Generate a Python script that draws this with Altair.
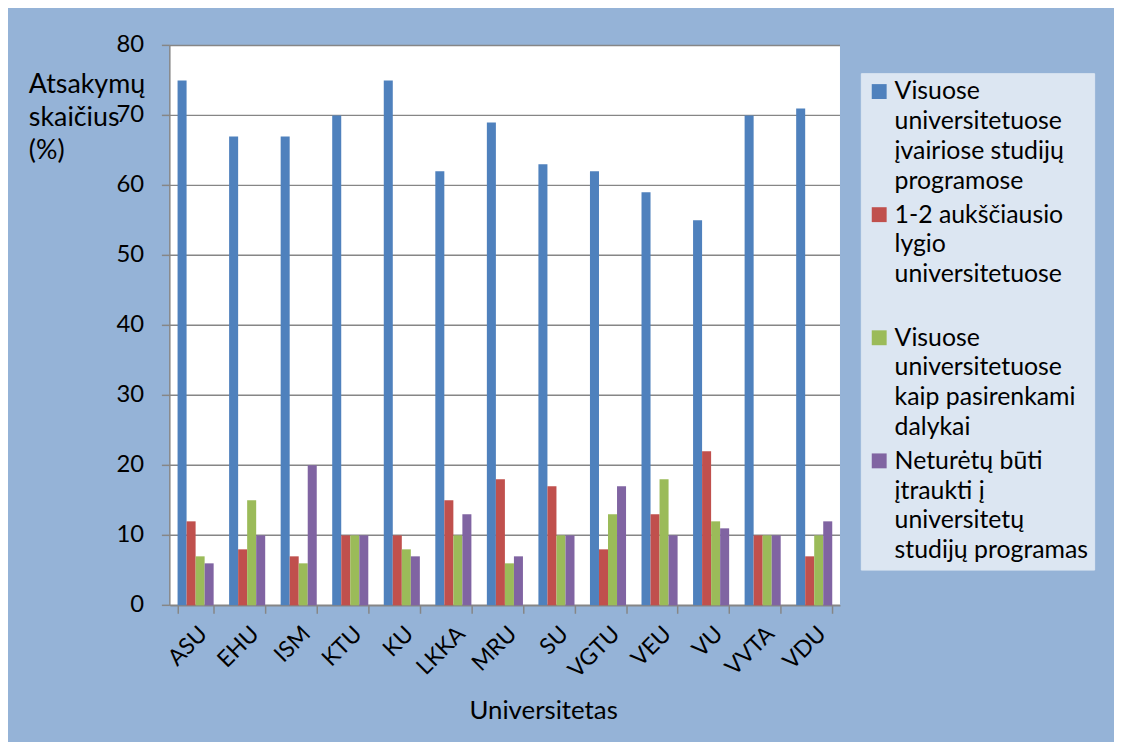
import altair as alt
import pandas as pd

universities = ["ASU", "EHU", "ISM", "KTU", "KU", "LKKA", "MRU", "SU", "VGTU", "VEU", "VU", "VVTA", "VDU"]
series = [
    "Visuose|universitetuose|įvairiose studijų|programose",
    "1-2 aukščiausio|lygio|universitetuose| ",
    "Visuose|universitetuose|kaip pasirenkami|dalykai",
    "Neturėtų būti|įtraukti į|universitetų|studijų programas",
]
s1 = [75, 67, 67, 70, 75, 62, 69, 63, 62, 59, 55, 70, 71]
s2 = [12, 8, 7, 10, 10, 15, 18, 17, 8, 13, 22, 10, 7]
s3 = [7, 15, 6, 10, 8, 10, 6, 10, 13, 18, 12, 10, 10]
s4 = [6, 10, 20, 10, 7, 13, 7, 10, 17, 10, 11, 10, 12]
colors = ["#4f81bd", "#c0504d", "#9bbb59", "#8064a2"]
y_ticks = [0, 10, 20, 30, 40, 50, 60, 70, 80]
y_title = ["Atsakymų", "skaičius", "(%)"]

rows = []
for vals, s in zip([s1, s2, s3, s4], series):
    for u, v in zip(universities, vals):
        rows.append({"Universitetas": u, "Serija": s, "Reikšmė": v})
df = pd.DataFrame(rows)
tick_df = pd.DataFrame({"Reikšmė": y_ticks, "Žymė": [str(t) for t in y_ticks]})
one_df = pd.DataFrame({"t": [0]})

FONT = "Lato"
GRAY = "#868686"

y_scale = alt.Scale(domain=[0, 80], nice=False)
y_enc = alt.Y("Reikšmė:Q", scale=y_scale, axis=None)

grid = alt.Chart(tick_df).mark_rule(color=GRAY, strokeWidth=1.5).encode(y=y_enc)

y_ticks_marks = alt.Chart(tick_df).mark_rule(color=GRAY, strokeWidth=1.5).encode(
    y=y_enc, x=alt.value(-8), x2=alt.value(0))

y_domain = alt.Chart(one_df).mark_rule(color=GRAY, strokeWidth=1.5).encode(
    x=alt.value(0), y=alt.value(0), y2=alt.value(564))

y_labels = alt.Chart(tick_df).mark_text(
    align="right", baseline="middle", fontSize=24, font=FONT, color="black"
).encode(y=y_enc, x=alt.value(-26), text="Žymė:N")

y_title_mark = alt.Chart(one_df).mark_text(
    text=y_title, align="left", baseline="top", fontSize=27, lineHeight=33,
    font=FONT, color="black"
).encode(x=alt.value(-142), y=alt.value(27))

bars = alt.Chart(df).mark_bar().encode(
    x=alt.X("Universitetas:N", sort=universities,
            scale=alt.Scale(paddingInner=0.3, paddingOuter=0.15),
            axis=alt.Axis(title="Universitetas", labelAngle=315, labelAlign="right",
                          labelBaseline="top", labelFontSize=23, labelPadding=9,
                          tickBand="extent", tickSize=8, tickColor=GRAY,
                          tickWidth=1.5, domainColor=GRAY, domainWidth=1.5,
                          titleFontSize=26, titleFontWeight="normal",
                          titleX=376, titleY=106, titleBaseline="middle",
                          titleAlign="center", grid=False)),
    xOffset=alt.XOffset("Serija:N", sort=series, scale=alt.Scale(paddingInner=0, paddingOuter=0)),
    y=y_enc,
    color=alt.Color("Serija:N", sort=series,
                    scale=alt.Scale(domain=series, range=colors),
                    legend=alt.Legend(title=None, orient="none", legendX=696, legendY=28,
                                      labelExpr="split(datum.label, '|')",
                                      labelFontSize=25,
                                      labelLimit=400, labelOffset=3,
                                      symbolType="square", symbolSize=225,
                                      symbolStrokeWidth=0, gridAlign="all",
                                      rowPadding=8, padding=6,
                                      fillColor="#dce6f2", strokeColor="#dce6f2")),
)

chart = alt.layer(grid, y_domain, y_ticks_marks, y_labels, y_title_mark, bars).properties(
    width=675, height=564,
    autosize=alt.AutoSizeParams(type="none"),
    padding={"left": 163, "top": 35, "right": 276, "bottom": 135},
).configure(
    background="#95b3d7", font=FONT,
    style={"guide-label": {"lineHeight": 30}},
).configure_view(
    fill="white", stroke=None,
).configure_axis(
    labelColor="black", titleColor="black", labelFont=FONT, titleFont=FONT,
).configure_legend(
    labelColor="black", labelFont=FONT,
)

chart.save("out.html", embed_options={"renderer": "svg", "actions": False})
